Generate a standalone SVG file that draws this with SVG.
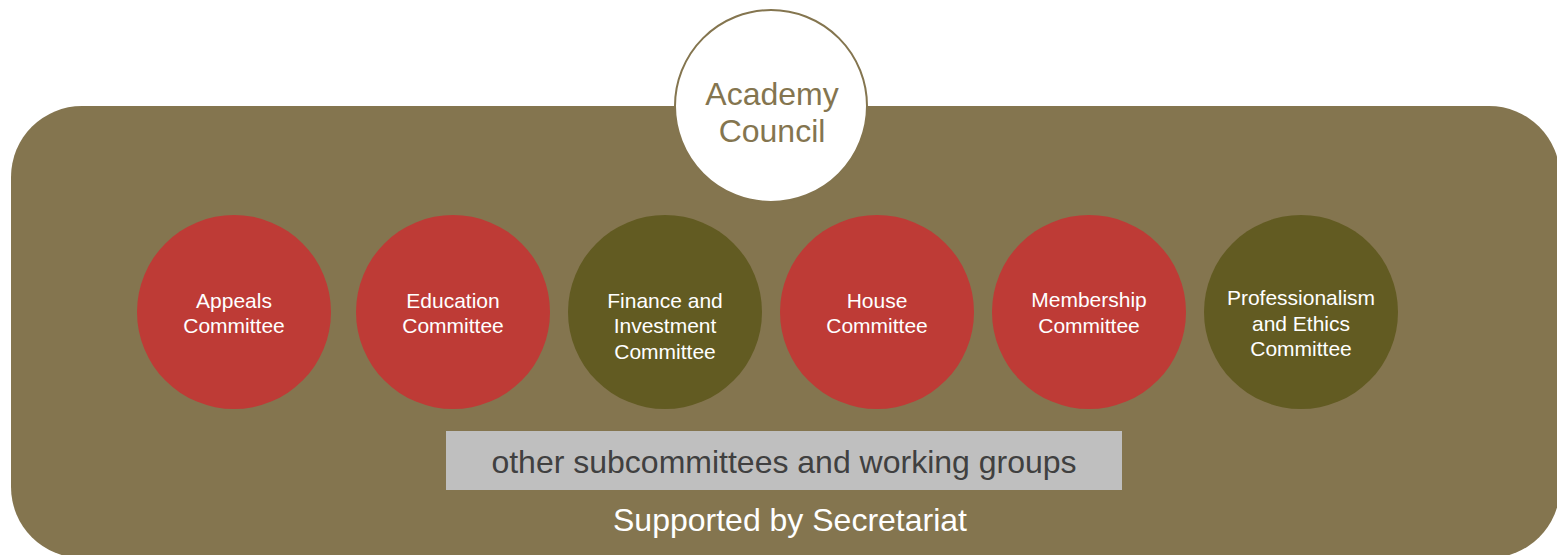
<svg xmlns="http://www.w3.org/2000/svg" width="1557" height="555" viewBox="0 0 1557 555">
<style>
.t{font-family:"Liberation Sans",Arial,sans-serif;text-anchor:middle}
.w{fill:#FFFFFF;font-size:21px}
.red{fill:#BE3B36}
.olive{fill:#625B22}
</style>
<rect width="1557" height="555" fill="#FFFFFF"/>
<g id="frame">
<rect x="11" y="106" width="1549" height="452" rx="71" ry="71" fill="#84754F"/>
</g>
<g id="connectors"></g>
<g id="council">
<circle cx="771" cy="106" r="96" fill="#FFFFFF" stroke="#84754F" stroke-width="2"/>
<text class="t" x="772" y="105" font-size="32" fill="#84754F">Academy</text>
<text class="t" x="772" y="142" font-size="32" fill="#84754F">Council</text>
</g>
<g id="appeals">
<circle class="red" cx="234" cy="312" r="97"/>
<text class="t w" x="234" y="308">Appeals</text>
<text class="t w" x="234" y="333">Committee</text>
</g>
<g id="education">
<circle class="red" cx="453" cy="312" r="97"/>
<text class="t w" x="453" y="308">Education</text>
<text class="t w" x="453" y="333">Committee</text>
</g>
<g id="finance">
<circle class="olive" cx="665" cy="312" r="97"/>
<text class="t w" x="665" y="308">Finance and</text>
<text class="t w" x="665" y="333">Investment</text>
<text class="t w" x="665" y="359">Committee</text>
</g>
<g id="house">
<circle class="red" cx="877" cy="312" r="97"/>
<text class="t w" x="877" y="308">House</text>
<text class="t w" x="877" y="333">Committee</text>
</g>
<g id="membership">
<circle class="red" cx="1089" cy="312" r="97"/>
<text class="t w" x="1089" y="307">Membership</text>
<text class="t w" x="1089" y="333">Committee</text>
</g>
<g id="professionalism">
<circle class="olive" cx="1301" cy="312" r="97"/>
<text class="t w" x="1301" y="305">Professionalism</text>
<text class="t w" x="1301" y="331">and Ethics</text>
<text class="t w" x="1301" y="356">Committee</text>
</g>
<g id="other">
<rect x="446" y="431" width="676" height="59" fill="#BFBFBF"/>
<text class="t" x="784" y="473" font-size="32" fill="#404040">other subcommittees and working groups</text>
</g>
<g id="secretariat">
<text class="t" x="790" y="531" font-size="32" fill="#FFFFFF">Supported by Secretariat</text>
</g>
</svg>
